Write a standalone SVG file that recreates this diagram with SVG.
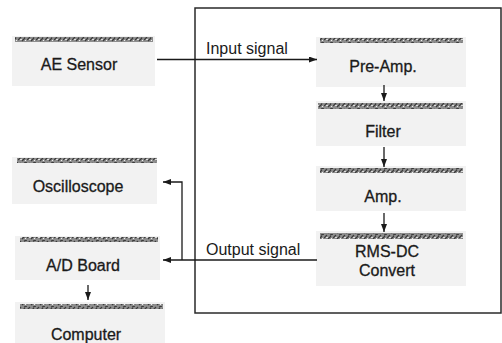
<svg xmlns="http://www.w3.org/2000/svg" width="502" height="343" viewBox="0 0 502 343">
  <defs>
    <pattern id="tex" width="9" height="6" patternUnits="userSpaceOnUse">
      <rect width="9" height="6" fill="#8e8e8e"/>
      <path d="M0 4 L3 1 M4 5 L7 2 M6 1 L9 0" stroke="#3a3a3a" stroke-width="1.2"/>
      <rect x="2" y="3" width="2" height="1" fill="#ddd"/>
      <rect x="7" y="4" width="1" height="1" fill="#eee"/>
    </pattern>
    <marker id="ah" viewBox="0 0 8 6" refX="8" refY="3" markerWidth="8" markerHeight="6" markerUnits="userSpaceOnUse" orient="auto">
      <path d="M0 0 L8 3 L0 6 Z" fill="#1a1a1a"/>
    </marker>
  </defs>
  <style>
    .bg { fill: #f2f2f2; }
    .band { fill: url(#tex); }
    .t { font-family: "Liberation Sans", Arial, sans-serif; font-size: 16px; fill: #1a1a1a; text-anchor: middle; stroke: #1a1a1a; stroke-width: 0.3; }
    .lbl { font-family: "Liberation Sans", Arial, sans-serif; font-size: 16px; fill: #1a1a1a; }
    .ln { fill: none; stroke: #1a1a1a; stroke-width: 1.3; }
    .ar { fill: none; stroke: #1a1a1a; stroke-width: 1.3; marker-end: url(#ah); }
  </style>
  <rect width="502" height="343" fill="#ffffff"/>
  <g id="frame">
    <rect x="195" y="8" width="306" height="305" fill="none" stroke="#2a2a2a" stroke-width="1.5"/>
  </g>
  <g id="ae-sensor">
    <rect class="bg" x="12" y="36" width="143" height="50"/>
    <rect class="band" x="15" y="37" width="138" height="5"/>
    <text class="t" x="79" y="70">AE Sensor</text>
  </g>
  <g id="oscilloscope">
    <rect class="bg" x="12" y="157" width="145" height="47"/>
    <rect class="band" x="17" y="158" width="140" height="5"/>
    <text class="t" x="78" y="192">Oscilloscope</text>
  </g>
  <g id="ad-board">
    <rect class="bg" x="15" y="236" width="145" height="44"/>
    <rect class="band" x="20" y="237" width="138" height="5"/>
    <text class="t" x="83" y="271">A/D Board</text>
  </g>
  <g id="computer">
    <rect class="bg" x="15" y="302" width="150" height="41"/>
    <rect class="band" x="20" y="304" width="143" height="5"/>
    <text class="t" x="86" y="340">Computer</text>
  </g>
  <g id="pre-amp">
    <rect class="bg" x="316" y="37" width="150" height="50"/>
    <rect class="band" x="320" y="38" width="143" height="5"/>
    <text class="t" x="383" y="72">Pre-Amp.</text>
  </g>
  <g id="filter">
    <rect class="bg" x="316" y="101" width="150" height="45"/>
    <rect class="band" x="318" y="103" width="145" height="6"/>
    <text class="t" x="383" y="137">Filter</text>
  </g>
  <g id="amp">
    <rect class="bg" x="316" y="166" width="150" height="45"/>
    <rect class="band" x="320" y="168" width="143" height="5"/>
    <text class="t" x="383" y="202">Amp.</text>
  </g>
  <g id="rms-dc">
    <rect class="bg" x="316" y="231" width="150" height="55"/>
    <rect class="band" x="320" y="233" width="143" height="6"/>
    <text class="t" x="387" y="257">RMS-DC</text>
    <text class="t" x="387" y="276">Convert</text>
  </g>
  <g id="connectors">
    <path class="ar" d="M157 59.5 H317"/>
    <text class="lbl" x="206" y="54">Input signal</text>
    <path class="ar" d="M384 85 V101"/>
    <path class="ar" d="M384 147 V167"/>
    <path class="ar" d="M384 213 V232"/>
    <path class="ar" d="M317 260 H163"/>
    <text class="lbl" x="206" y="255">Output signal</text>
    <path class="ar" d="M182 260 V182 H163"/>
    <path class="ar" d="M88 285 V300"/>
  </g>
</svg>
